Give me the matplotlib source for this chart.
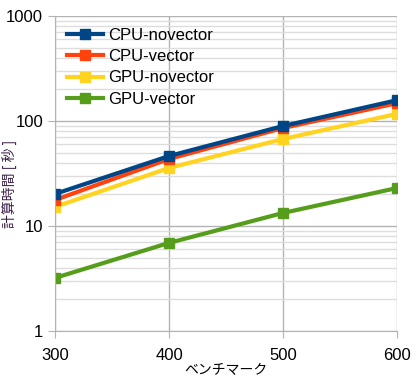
import matplotlib.pyplot as plt
from matplotlib.ticker import LogLocator, NullFormatter, FixedLocator

plt.rcParams['font.family'] = ['Liberation Sans', 'Noto Sans CJK JP', 'DejaVu Sans']

# data
bench = [300, 400, 500, 600]
cpu_novector = [20.2, 46.4, 89.6, 158]
cpu_vector = [17.7, 43.5, 85.8, 148]
gpu_novector = [15.2, 35.7, 67.4, 117]
gpu_vector = [3.2, 6.9, 13.3, 23]

series = [
    ('CPU-novector', cpu_novector, '#004586'),
    ('CPU-vector', cpu_vector, '#ff420e'),
    ('GPU-novector', gpu_novector, '#ffd320'),
    ('GPU-vector', gpu_vector, '#579d1c'),
]

fig = plt.figure(figsize=(4.17, 3.83), dpi=100)
ax = fig.add_axes([0.132, 0.136, 0.820, 0.822])

# draw later series first so CPU-novector sits on top
for name, vals, col in reversed(series):
    ax.plot(bench, vals, color=col, linewidth=3, marker='s', markersize=7.5,
            label=name)

ax.set_yscale('log')
ax.set_ylim(1, 1000)
ax.set_xlim(300, 600)
ax.set_xticks(bench)
ax.yaxis.set_major_locator(FixedLocator([1, 10, 100, 1000]))
ax.set_yticklabels(['1', '10', '100', '1000'])
ax.yaxis.set_minor_locator(LogLocator(base=10, subs=range(2, 10)))
ax.yaxis.set_minor_formatter(NullFormatter())

ax.grid(True, which='major', color='#b3b3b3', linewidth=1)
ax.grid(True, which='minor', axis='y', color='#dddddd', linewidth=1)
ax.set_axisbelow(True)

for s in ['top', 'right']:
    ax.spines[s].set_visible(False)
for s in ['left', 'bottom']:
    ax.spines[s].set_color('#b3b3b3')
ax.tick_params(which='major', length=5, color='#b3b3b3', labelsize=12)
ax.tick_params(which='minor', length=0)
ax.tick_params(axis='x', pad=7)

ax.set_xlabel('ベンチマーク', fontsize=10, family=['Noto Sans CJK JP'], labelpad=0)
ax.set_ylabel('計算時間 [ 秒 ]', fontsize=10, family=['Noto Sans CJK JP'],
              color='#3c1f4a')
ax.yaxis.set_label_coords(-0.111, 0.467)

handles, labels = ax.get_legend_handles_labels()
ax.legend(handles[::-1], labels[::-1], loc='upper left', frameon=False,
          fontsize=12, handlelength=2.15, handletextpad=0.35,
          borderaxespad=0.3, labelspacing=0.38,
          bbox_to_anchor=(0.0, 1.0))

fig.savefig('out.png', dpi=100)
